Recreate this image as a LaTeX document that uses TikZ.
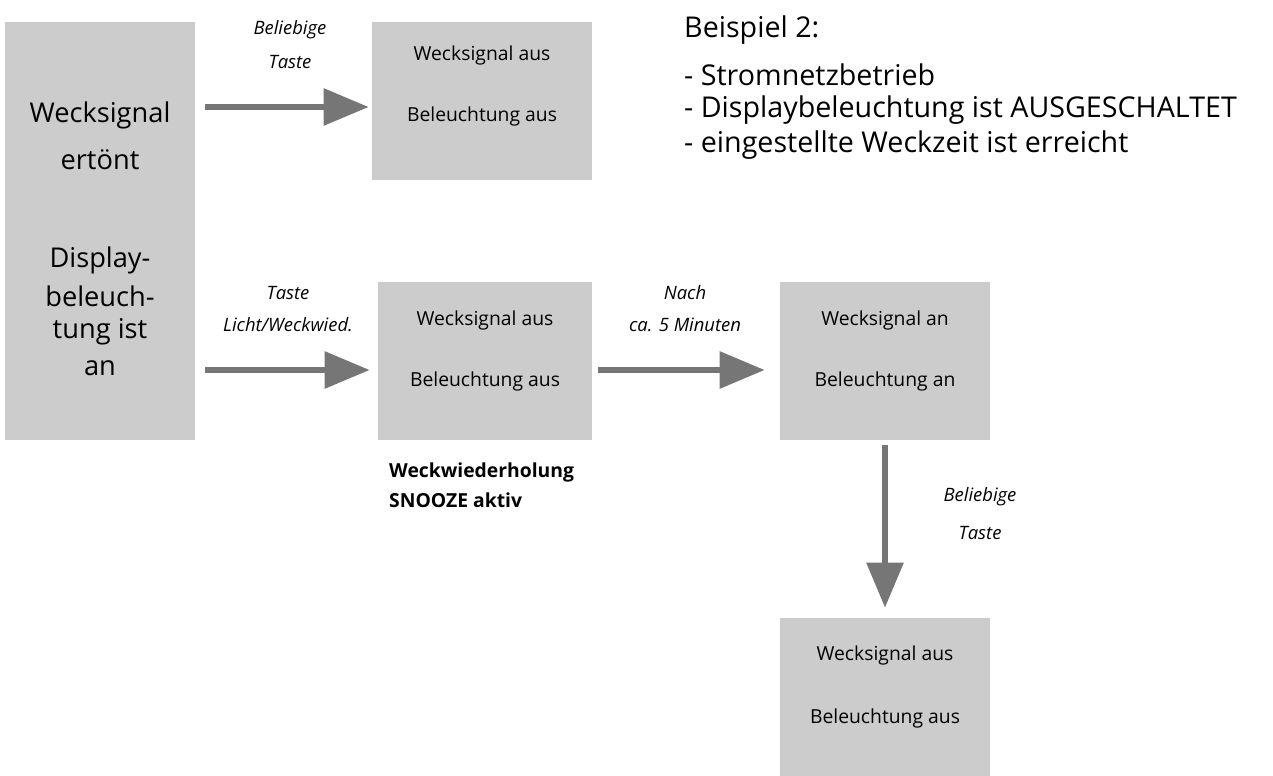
\documentclass[tikz,border=0pt]{standalone}
\usepackage{fontspec}
\setmainfont{Open Sans}
\usetikzlibrary{arrows.meta,positioning}
\definecolor{boxgray}{HTML}{CCCCCC}
\definecolor{arrgray}{HTML}{767676}
\tikzset{
  box/.style={fill=boxgray, draw=none, inner sep=0pt},
  txt/.style={font=\fontsize{11}{13}\selectfont},
  big/.style={font=\fontsize{15.5}{18}\selectfont},
  note/.style={font=\fontsize{16.3}{19}\selectfont, anchor=west},
  lbl/.style={font=\fontsize{10.5}{12}\selectfont\itshape},
  flow/.style={draw=arrgray, line width=3.4pt, -{Triangle[length=0.9cm,width=0.72cm]}}
}
\begin{document}
\begin{tikzpicture}[x=0.02cm,y=-0.02cm]
        \useasboundingbox (0,0) rectangle (1273,776);
        %boxes
        \node[box, minimum width=3.8cm, minimum height=8.36cm] (sig) at (100,231) {};
        \node[box, minimum width=4.4cm, minimum height=3.16cm] (a) at (482,101) {};
        \node[box, minimum width=4.28cm, minimum height=3.16cm] (b) at (485,361) {};
        \node[box, minimum width=4.2cm, minimum height=3.16cm] (c) at (885,361) {};
        \node[box, minimum width=4.2cm, minimum height=3.16cm] (d) at (885,697) {};
        %box texts
        \node[big] at (100,115) {Wecksignal};
        \node[big] at (100,160) {ertönt};
        \node[big] at (100,260) {Display-};
        \node[big] at (100,296) {beleuch-};
        \node[big] at (100,332) {tung ist};
        \node[big] at (100,368) {an};
        \node[txt] at (482,55) {Wecksignal aus};
        \node[txt] at (482,116) {Beleuchtung aus};
        \node[txt] at (485,320) {Wecksignal aus};
        \node[txt] at (485,381) {Beleuchtung aus};
        \node[txt] at (885,320) {Wecksignal an};
        \node[txt] at (885,381) {Beleuchtung an};
        \node[txt] at (885,655) {Wecksignal aus};
        \node[txt] at (885,718) {Beleuchtung aus};
        %arrow ends
        \coordinate (s1) at (205,107);
        \coordinate (s2) at (205,370);
        %edges
        \draw[flow] (s1) -- ([xshift=-0.06cm]a.west |- s1);
        \draw[flow] (s2) -- ([xshift=-0.16cm]b.west |- s2);
        \draw[flow] ([xshift=0.12cm]b.east |- s2) -- ([xshift=-0.3cm]c.west |- s2);
        \draw[flow] ([yshift=-0.1cm]c.south) -- ([yshift=0.2cm]d.north);
        %labels
        \node[lbl] at (290,30) {Beliebige};
        \node[lbl] at (290,62) {Taste};
        \node[lbl] at (288,293) {Taste};
        \node[lbl] at (288,325) {Licht/Weckwied.};
        \node[lbl] at (685,293) {Nach};
        \node[lbl] at (685,325) {ca. 5 Minuten};
        \node[lbl] at (980,497) {Beliebige};
        \node[lbl] at (980,533) {Taste};
        \node[txt, font=\fontsize{11}{13}\selectfont\bfseries, anchor=west] at (383,472) {Weckwiederholung};
        \node[txt, font=\fontsize{11}{13}\selectfont\bfseries, anchor=west] at (383,500) {SNOOZE aktiv};
        %notes
        \node[note] at (678,30) {Beispiel 2:};
        \node[note] at (678,75) {- Stromnetzbetrieb};
        \node[note] at (678,110) {- Displaybeleuchtung ist AUSGESCHALTET};
        \node[note] at (678,145) {- eingestellte Weckzeit ist erreicht};
\end{tikzpicture}
\end{document}
